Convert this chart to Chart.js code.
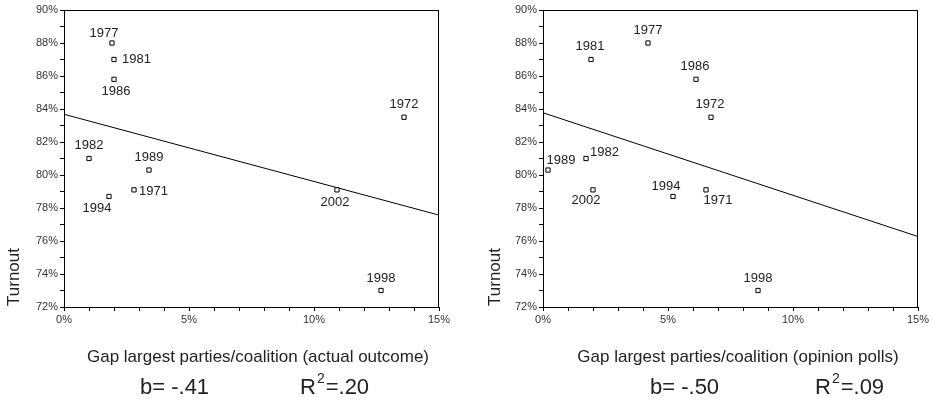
<!DOCTYPE html>
<html>
<head>
<meta charset="utf-8">
<script src="https://cdn.jsdelivr.net/npm/chart.js@4.4.0/dist/chart.umd.min.js"></script>
<style>
  html, body { margin: 0; padding: 0; background: #fff; }
  #wrap { position: relative; width: 932px; height: 401px; }
  .box { position: absolute; top: 0; height: 401px; }
  #boxA { left: 0; width: 466px; }
  #boxB { left: 466px; width: 466px; }
</style>
</head>
<body>
<div id="wrap">
  <div class="box" id="boxA"><canvas id="chartA"></canvas></div>
  <div class="box" id="boxB"><canvas id="chartB"></canvas></div>
</div>
<script>
// election years and turnout (%)
const years = ["1971", "1972", "1977", "1981", "1982", "1986", "1989", "1994", "1998", "2002"];
const turnout = [79.1, 83.5, 88.0, 87.0, 81.0, 85.8, 80.3, 78.7, 73.0, 79.1];

// gap between largest parties/coalition (%)
const gapActual = [2.8, 13.6, 1.92, 2.0, 1.0, 2.0, 3.4, 1.8, 12.68, 10.92];
const gapPolls = [6.52, 6.72, 4.2, 1.92, 1.72, 6.12, 0.2, 5.2, 8.6, 2.0];

// fitted lines: turnout at gap 0% and 15%
const fitX = [0, 15];
const fitActual = [83.68, 77.57];
const fitPolls = [83.77, 76.27];

const titleActual = "Gap largest parties/coalition (actual outcome)";
const titlePolls = "Gap largest parties/coalition (opinion polls)";
const statsActual = ["-.41", ".20"];
const statsPolls = ["-.50", ".09"];

// where each year label sits relative to its point (px)
const offsActual = [[19.5, 2], [0, -13], [-8, -10], [22.5, 0], [0, -13], [2, 12], [0, -13], [-12, 12], [0, -12], [-2, 13]];
const offsPolls = [[12, 11], [-1, -13], [0, -13], [-1, -13], [18.5, -6], [-1, -13], [13, -10], [-7, -10], [0, -12], [-7, 11]];

const FONT = "'Liberation Sans', Arial, sans-serif";

function makeChart(id, gaps, fit, offs, title, stats, layout) {
  const pts = gaps.map((g, i) => ({ x: g, y: turnout[i] }));
  const line = fitX.map((x, i) => ({ x: x, y: fit[i] }));

  const extras = {
    id: "extras",
    afterDatasetsDraw(chart) {
      const ctx = chart.ctx;
      const a = chart.chartArea;
      ctx.save();
      ctx.strokeStyle = "#000";
      ctx.lineWidth = 1;
      ctx.strokeRect(Math.round(a.left) + 0.5, Math.round(a.top) + 0.5,
        Math.round(a.right - a.left) - 1, Math.round(a.bottom - a.top));

      // year labels
      const meta = chart.getDatasetMeta(0);
      ctx.fillStyle = "#222";
      ctx.font = "13px " + FONT;
      ctx.textAlign = "center";
      ctx.textBaseline = "middle";
      meta.data.forEach((p, i) => {
        ctx.fillText(years[i], p.x + offs[i][0], p.y + offs[i][1]);
      });

      // y title
      ctx.save();
      ctx.translate(layout.yTitleX, 277);
      ctx.rotate(-Math.PI / 2);
      ctx.font = "17px " + FONT;
      ctx.fillText("Turnout", 0, 0);
      ctx.restore();

      // x title
      ctx.font = "17px " + FONT;
      ctx.fillText(title, layout.titleX, 357);

      // b and R2
      ctx.textAlign = "left";
      ctx.font = "22px " + FONT;
      ctx.fillText("b= " + stats[0], layout.bX, 388);
      let x = layout.rX;
      ctx.fillText("R", x, 388);
      x += ctx.measureText("R").width + 1;
      ctx.font = "14px " + FONT;
      ctx.fillText("2", x, 379);
      x += ctx.measureText("2").width + 1;
      ctx.font = "22px " + FONT;
      ctx.fillText("=" + stats[1], x, 388);
      ctx.restore();
    }
  };

  return new Chart(document.getElementById(id), {
    type: "scatter",
    data: {
      datasets: [{
        data: pts,
        pointStyle: "rect",
        pointRadius: 3,
        pointBackgroundColor: "#fff",
        pointBorderColor: "#000",
        pointBorderWidth: 1,
        showLine: false
      }, {
        type: "line",
        data: line,
        borderColor: "#000",
        borderWidth: 1,
        pointRadius: 0,
        fill: false
      }]
    },
    options: {
      responsive: true,
      maintainAspectRatio: false,
      animation: false,
      layout: { padding: { left: 0, right: layout.padRight, top: 10, bottom: 0 } },
      plugins: { legend: { display: false }, tooltip: { enabled: false } },
      scales: {
        x: {
          type: "linear",
          min: 0, max: 15,
          ticks: {
            stepSize: 1,
            autoSkip: false,
            maxRotation: 0,
            padding: 2,
            color: "#333",
            font: { family: FONT, size: 11 },
            callback: v => (v % 5 === 0 ? v + "%" : "")
          },
          grid: { display: true, drawOnChartArea: false, drawTicks: true, tickLength: 4, color: "#000" },
          border: { display: true, color: "#000" },
          afterFit: s => { s.height = 94; }
        },
        y: {
          type: "linear",
          min: 72, max: 90,
          ticks: {
            stepSize: 1,
            autoSkip: false,
            padding: 2,
            color: "#333",
            font: { family: FONT, size: 11 },
            callback: v => (v % 2 === 0 ? v + "%" : "")
          },
          grid: { display: true, drawOnChartArea: false, drawTicks: true, tickLength: 4, color: "#000" },
          border: { display: true, color: "#000" },
          afterFit: s => { s.width = layout.yWidth; }
        }
      }
    },
    plugins: [extras]
  });
}

makeChart("chartA", gapActual, fitActual, offsActual, titleActual, statsActual,
  { yWidth: 64, padRight: 27, yTitleX: 14, titleX: 258, bX: 140, rX: 300 });
makeChart("chartB", gapPolls, fitPolls, offsPolls, titlePolls, statsPolls,
  { yWidth: 77, padRight: 14, yTitleX: 29, titleX: 272, bX: 184, rX: 349 });
</script>
</body>
</html>
